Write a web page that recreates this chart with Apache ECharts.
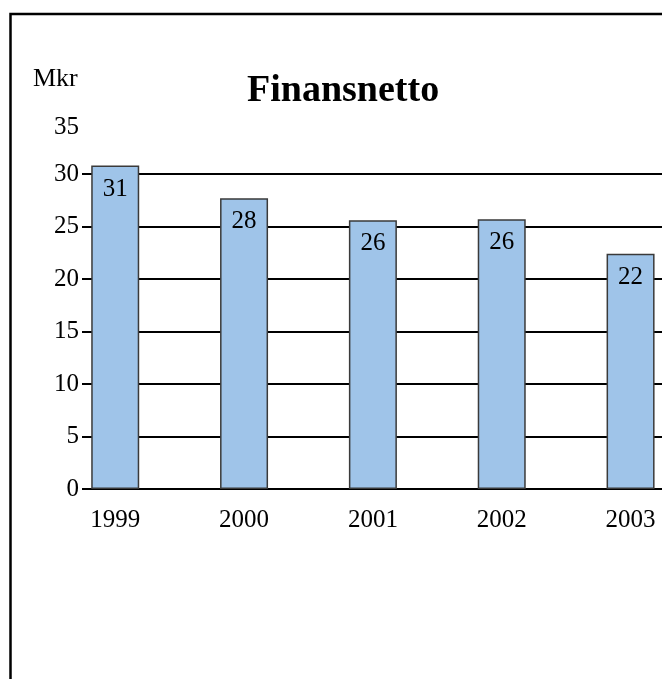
<!DOCTYPE html>
<html>
<head>
<meta charset="utf-8">
<script src="https://cdn.jsdelivr.net/npm/echarts@6/dist/echarts.min.js"></script>
<style>
html,body{margin:0;padding:0;background:#fff;}
#chart{width:662px;height:679px;}
</style>
</head>
<body>
<div id="chart"></div>
<script>
// Data
var years = ['1999', '2000', '2001', '2002', '2003'];
var values = [30.8, 27.7, 25.6, 25.7, 22.4];
var yTickLabels = [0, 5, 10, 15, 20, 25, 30];
var yTopLabel = [35];
var titleText = 'Finansnetto';
var unitText = 'Mkr';

var font = 'Liberation Serif';
var chart = echarts.init(document.getElementById('chart'), null, {renderer: 'canvas'});

var xIdx = years.map(function (y, i) { return i; });
var barData = values.map(function (v, i) { return [xIdx[i], v]; });

chart.setOption({
  animation: false,
  backgroundColor: '#fff',
  title: [
    {
      text: titleText,
      left: 247,
      top: 72,
      padding: 0,
      textStyle: {fontFamily: font, fontSize: 38, fontWeight: 'bold', color: '#000'}
    },
    {
      text: unitText,
      left: 33,
      top: 66,
      padding: 0,
      textStyle: {fontFamily: font, fontSize: 26, fontWeight: 'normal', color: '#000'}
    }
  ],
  graphic: [{
    type: 'rect',
    shape: {x: 10.5, y: 14, width: 1000, height: 1000},
    style: {fill: 'none', stroke: '#000', lineWidth: 2.5},
    silent: true
  }],
  grid: {left: 91, right: 0, top: 121.5, bottom: 190, containLabel: false},
  xAxis: {
    type: 'value',
    min: -0.188,
    max: 4.244,
    axisLine: {show: true, onZero: false, lineStyle: {color: '#000', width: 2}},
    axisTick: {show: false},
    splitLine: {show: false},
    axisLabel: {
      customValues: xIdx,
      formatter: function (v) { return years[Math.round(v)]; },
      fontFamily: font, fontSize: 25, color: '#000', margin: 19
    }
  },
  yAxis: [
    {
      type: 'value',
      min: 0,
      max: 35,
      interval: 5,
      position: 'left',
      axisLine: {show: true, onZero: false, lineStyle: {color: '#000', width: 0, opacity: 0}},
      axisTick: {show: true, customValues: yTickLabels, length: 9, lineStyle: {color: '#000', width: 2}},
      splitLine: {show: true, lineStyle: {color: '#000', width: 2}},
      axisLabel: {
        customValues: yTickLabels,
        fontFamily: font, fontSize: 25, color: '#000', margin: 12
      }
    },
    {
      type: 'value',
      min: 0,
      max: 35,
      interval: 5,
      position: 'left',
      offset: 0,
      axisLine: {show: false, onZero: false},
      axisTick: {show: false},
      splitLine: {show: false},
      axisLabel: {
        customValues: yTopLabel,
        verticalAlign: 'top',
        lineHeight: 12,
        fontFamily: font, fontSize: 25, color: '#000', margin: 12
      }
    }
  ],
  series: [{
    type: 'bar',
    yAxisIndex: 0,
    data: barData,
    barWidth: 48,
    itemStyle: {color: '#9FC4E9', borderColor: '#3a3a3a', borderWidth: 1.5},
    label: {
      show: true,
      position: 'insideTop',
      distance: 11,
      formatter: function (p) { return String(Math.round(p.value[1])); },
      fontFamily: font, fontSize: 25, color: '#000'
    }
  }]
});
</script>
</body>
</html>
